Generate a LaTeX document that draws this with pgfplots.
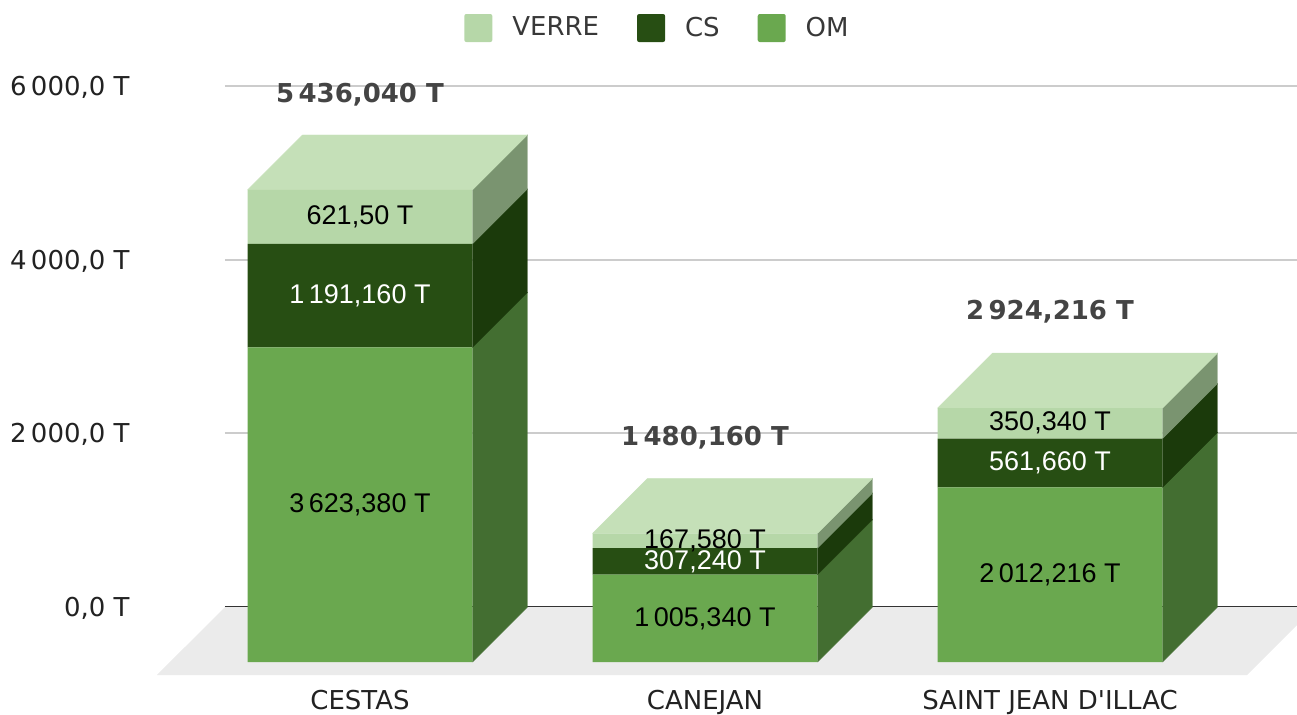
\documentclass[border=0pt]{standalone}
\usepackage{pgfplots}
\pgfplotsset{compat=1.18}
\usepackage{pgfplotstable}
\usepackage{fontspec}
\setmainfont{DejaVu Sans}
\newfontfamily\labfont{Liberation Sans}

\definecolor{omF}{HTML}{6AA84F}
\definecolor{omS}{HTML}{436E31}
\definecolor{csF}{HTML}{274E13}
\definecolor{csS}{HTML}{1B3A0B}
\definecolor{vF}{HTML}{B6D7A8}
\definecolor{vS}{HTML}{7A9470}
\definecolor{vT}{HTML}{C5E0B8}
\definecolor{floorc}{HTML}{EBEBEB}
\definecolor{gridc}{HTML}{CCCCCC}
\definecolor{txt}{HTML}{222222}
\definecolor{tot}{HTML}{444444}

\pgfplotstableread{
x OM CS VERRE
0 3623.38 1191.16 621.50
1 1005.34 307.24 167.58
2 2012.216 561.66 350.34
}\datatable

\pgfplotsset{base/.style={scale only axis, width=536pt, height=288pt,
  xmin=-0.3913, xmax=2.7159, ymin=0, ymax=6633.4, clip=false,
  at={(0,0)}, anchor=south west}}

% side face of a segment: #1 colour, #2 category, #3 bottom, #4 top
\newcommand\sidef[4]{%
  \pgfmathsetmacro\xa{#2+0.326}\pgfmathsetmacro\xb{#2+0.4854}%
  \pgfmathsetmacro\ya{#3+633.4}\pgfmathsetmacro\yb{#4+633.4}%
  \edef\tmp{\noexpand\addplot[fill=#1, draw=#1, line width=0.2pt, forget plot] coordinates {(\xa,#3) (\xb,\ya) (\xb,\yb) (\xa,#4)};}\tmp}
% top face: #1 colour, #2 category, #3 total
\newcommand\topf[3]{%
  \pgfmathsetmacro\xa{#2-0.326}\pgfmathsetmacro\xb{#2-0.1666}%
  \pgfmathsetmacro\xc{#2+0.4854}\pgfmathsetmacro\xd{#2+0.326}%
  \pgfmathsetmacro\ya{#3+633.4}%
  \edef\tmp{\noexpand\addplot[fill=#1, draw=#1, line width=0.2pt, forget plot] coordinates {(\xa,#3) (\xb,\ya) (\xc,\ya) (\xd,#3)};}\tmp}

\begin{document}
\begin{tikzpicture}
\useasboundingbox (-112.5pt,-26pt) rectangle (536pt,331pt);
% ---------- background: grid, floor, side and top faces
\begin{axis}[base,
  axis line style={draw=none}, major tick length=0pt,
  ymajorgrids, major grid style={draw=gridc, line width=1pt},
  ytick={2633.4,4633.4,6633.4},
  yticklabels={{2\,000{,}0 T},{4\,000{,}0 T},{6\,000{,}0 T}},
  extra y ticks={633.4}, extra y tick labels={{0{,}0 T}},
  extra y tick style={major grid style={draw=black!80, line width=1pt}},
  yticklabel style={font=\fontsize{13}{15}\selectfont, text=txt, anchor=base east, inner sep=0pt, xshift=-47.5pt, yshift=-4.7pt},
  xtick={0,1,2},
  xticklabels={CESTAS,CANEJAN,SAINT JEAN D\textquotesingle ILLAC},
  xticklabel style={font=\fontsize{13}{15}\selectfont, text=txt, anchor=north, inner sep=0pt, yshift=-14pt},
]
\addplot[fill=floorc, draw=none, forget plot] coordinates {(-0.5884,-149.7) (-0.3913,633.4) (2.768,633.4) (2.571,-149.7)};
% CESTAS
\sidef{omS}{0}{0}{3623.38}
\sidef{csS}{0}{3623.38}{4814.54}
\sidef{vS}{0}{4814.54}{5436.04}
\topf{vT}{0}{5436.04}
% CANEJAN
\sidef{omS}{1}{0}{1005.34}
\sidef{csS}{1}{1005.34}{1312.58}
\sidef{vS}{1}{1312.58}{1480.16}
\topf{vT}{1}{1480.16}
% SAINT JEAN D'ILLAC
\sidef{omS}{2}{0}{2012.216}
\sidef{csS}{2}{2012.216}{2573.876}
\sidef{vS}{2}{2573.876}{2924.216}
\topf{vT}{2}{2924.216}
\end{axis}
% ---------- front faces (stacked bars) and legend
\begin{axis}[base, hide axis, ybar stacked, bar width=0.652,
  reverse legend,
  legend columns=3,
  legend style={draw=none, fill=none, at={(0.4025,1.1007)}, anchor=center,
    font=\fontsize{13}{15}\selectfont, text=txt!90,
    nodes={inner sep=0pt},
    /tikz/every odd column/.append style={column sep=10pt},
    /tikz/every even column/.append style={column sep=19pt}},
]
\addplot[fill=omF, draw=none, legend image code/.code={\fill[omF, rounded corners=1pt] (0pt,-7pt) rectangle (14pt,7pt);}] table[x=x, y=OM]{\datatable};
\addplot[fill=csF, draw=none, legend image code/.code={\fill[csF, rounded corners=1pt] (0pt,-7pt) rectangle (14pt,7pt);}] table[x=x, y=CS]{\datatable};
\addplot[fill=vF, draw=none, legend image code/.code={\fill[vF, rounded corners=1pt] (0pt,-7pt) rectangle (14pt,7pt);}] table[x=x, y=VERRE]{\datatable};
\legend{OM,CS,VERRE}
\end{axis}
% ---------- labels
\begin{axis}[base, hide axis]
\addplot[draw=none, mark=none, nodes near coords, point meta=explicit symbolic,
  every node near coord/.append style={anchor=center, font=\labfont\fontsize{13.5}{15}\selectfont, text=black}]
  coordinates {(0,1811.69) [3\,623,380 T] (0,5125.29) [621,50 T]
               (1,502.67) [1\,005,340 T] (1,1396.37) [167,580 T]
               (2,1006.11) [2\,012,216 T] (2,2749.05) [350,340 T]};
\addplot[draw=none, mark=none, nodes near coords, point meta=explicit symbolic,
  every node near coord/.append style={anchor=center, font=\labfont\fontsize{13.5}{15}\selectfont, text=white}]
  coordinates {(0,4218.96) [1\,191,160 T] (1,1158.96) [307,240 T] (2,2293.05) [561,660 T]};
\addplot[draw=none, mark=none, nodes near coords, point meta=explicit symbolic,
  every node near coord/.append style={anchor=center, font=\bfseries\fontsize{13}{15}\selectfont, text=tot}]
  coordinates {(0,6530) [5\,436,040 T] (1,2580) [1\,480,160 T] (2,4030) [2\,924,216 T]};
\end{axis}
\end{tikzpicture}
\end{document}
